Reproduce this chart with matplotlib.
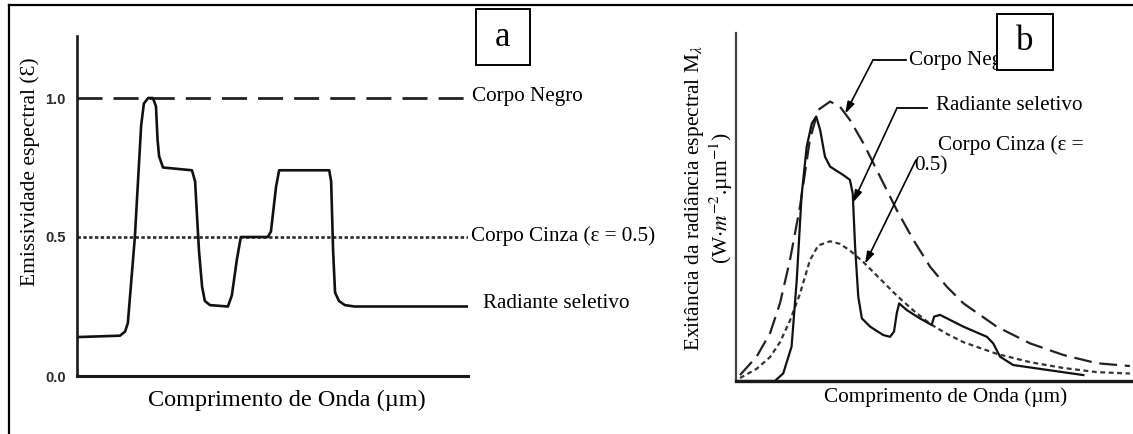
import numpy as np
import matplotlib
matplotlib.use("Agg")
import matplotlib.pyplot as plt
from matplotlib.lines import Line2D
from matplotlib.patches import Rectangle

plt.rcParams['font.family'] = ['Liberation Serif', 'DejaVu Serif']
plt.rcParams['mathtext.fontset'] = 'stix'

W, H = 1133, 434

# ---- panel (a): spectral emissivity vs wavelength ----
a_wave = [0, 11.0, 12.3, 13.0, 14.8, 16.4, 17.1, 18.2, 19.4, 20.2, 20.6, 21.0,
          22.0, 29.4, 30.2, 31.2, 32.0, 32.7, 34.0, 38.6, 39.6, 40.9, 41.9,
          48.8, 49.6, 50.9, 51.7, 64.5, 65.0, 65.5, 66.0, 67.0, 68.5, 71.0, 100]
a_selective = [0.14, 0.145, 0.16, 0.19, 0.50, 0.90, 0.98, 1.00, 1.00, 0.97, 0.85,
               0.79, 0.75, 0.74, 0.70, 0.45, 0.32, 0.27, 0.255, 0.25, 0.29, 0.42,
               0.50, 0.50, 0.52, 0.68, 0.74, 0.74, 0.70, 0.45, 0.30, 0.27, 0.255,
               0.25, 0.25]
a_blackbody = 1.0
a_graybody = 0.5
a_ticks = [0.0, 0.5, 1.0]
a_ticklabels = ["0.0", "0.5", "1.0"]

# ---- panel (b): spectral exitance vs wavelength ----
b_wave_bb = [1.0, 5.2, 8.6, 11.1, 13.6, 16.1, 18.6, 20.7, 23.7, 26.2, 28.7, 32.1,
             36.3, 40.5, 44.7, 48.9, 53.1, 57.3, 65.7, 74.1, 82.4, 90.9, 99.2]
b_blackbody = [1.7, 7.0, 13.8, 22.4, 34.8, 50.0, 69.3, 77.9, 80.3, 78.8, 75.0, 68.3,
               58.7, 49.1, 40.5, 32.8, 27.1, 22.3, 15.6, 10.8, 7.5, 5.1, 4.3]
b_emissivity_gray = 0.5
b_wave_sel = [0, 9.8, 11.9, 14.0, 15.3, 16.5, 17.8, 19.1, 20.2, 21.2, 22.4, 23.7,
              27.0, 28.7, 29.4, 30.0, 30.8, 31.7, 33.8, 37.1, 38.8, 39.8, 40.5,
              41.1, 43.0, 46.3, 49.3, 49.9, 51.4, 57.3, 63.2, 64.8, 66.5, 69.8,
              78.3, 87.5]
b_selective = [0, 0, 2.2, 9.9, 29.0, 53.0, 67.3, 74.0, 76.0, 72.1, 64.5, 61.6,
               59.2, 57.8, 53.9, 38.6, 24.2, 18.0, 15.6, 13.2, 12.7, 14.2, 19.5,
               22.3, 20.4, 18.0, 16.1, 18.5, 19.0, 15.6, 12.7, 10.8, 7.0, 4.6,
               3.2, 1.7]


def fig_xy(x, y):
    """Pixel position (origin top-left) to figure fraction."""
    return x / W, 1 - y / H


fig = plt.figure(figsize=(W / 100, H / 100), dpi=100)

# page frame (top and left rules)
fig.add_artist(Line2D([9 / W, 1], [1 - 5 / H] * 2, transform=fig.transFigure,
                      color='black', lw=1.6))
fig.add_artist(Line2D([9 / W] * 2, [1 - 5 / H, 0], transform=fig.transFigure,
                      color='black', lw=1.6))

TXT = 15.2

# ================= panel (a) =================
ax_a = fig.add_axes([77 / W, 1 - 376 / H, 391 / W, 340 / H])
ax_a.set_xlim(0, 100)
ax_a.set_ylim(0, 340 / 278)
for s in ('top', 'right'):
    ax_a.spines[s].set_visible(False)
ax_a.spines['left'].set_linewidth(1.9)
ax_a.spines['bottom'].set_linewidth(2.2)
ax_a.spines['left'].set_color('#1a1a1a')
ax_a.spines['bottom'].set_color('#1a1a1a')
ax_a.set_xticks([])
ax_a.set_yticks(a_ticks)
ax_a.set_yticklabels(a_ticklabels, family='Liberation Sans', fontweight='bold',
                     fontsize=10.5, color='#2a2a2a')
ax_a.tick_params(axis='y', length=0, pad=8)

ax_a.axhline(a_blackbody, color='#222222', lw=2.0, ls=(0, (9, 4)))
ax_a.axhline(a_graybody, color='#2a2a2a', lw=1.9, ls=(0, (1.3, 0.9)))
ax_a.plot(a_wave, a_selective, color='#111111', lw=1.9, solid_joinstyle='round')

ax_a.set_xlabel("Comprimento de Onda (µm)", fontsize=17.5)
ax_a.xaxis.set_label_coords((287 - 77) / 391, (376 - 400) / 340)
ax_a.xaxis.label.set_va('center')
ax_a.set_ylabel("Emissividade espectral (Ɛ)", fontsize=15.5)
ax_a.yaxis.set_label_coords((30 - 77) / 391, (376 - 172) / 340)
ax_a.yaxis.label.set_va('center')

fig.text(*fig_xy(472, 97), "Corpo Negro", fontsize=TXT, va='center', ha='left')
fig.text(*fig_xy(471, 236), "Corpo Cinza (ε = 0.5)", fontsize=TXT, va='center', ha='left')
fig.text(*fig_xy(483, 303), "Radiante seletivo", fontsize=TXT, va='center', ha='left')

fig.add_artist(Rectangle(fig_xy(476, 65), 54 / W, 56 / H, transform=fig.transFigure,
                         facecolor='white', edgecolor='black', lw=1.4, zorder=5))
fig.text(*fig_xy(503, 37), "a", fontsize=25, va='center', ha='center', zorder=6)

# ================= panel (b) =================
ax_b = fig.add_axes([736 / W, 1 - 381 / H, 397 / W, 348 / H])
ax_b.set_xlim(0, 100)
ax_b.set_ylim(0, 100)
for s in ('top', 'right'):
    ax_b.spines[s].set_visible(False)
ax_b.spines['left'].set_color('#444444')
ax_b.spines['left'].set_linewidth(1.6)
ax_b.spines['bottom'].set_color('#1a1a1a')
ax_b.spines['bottom'].set_linewidth(2.4)
ax_b.set_xticks([])
ax_b.set_yticks([])

bb = np.array(b_blackbody)
ax_b.plot(b_wave_bb, bb, color='#222222', lw=1.6, ls=(0, (8, 3.5)))
ax_b.plot(b_wave_bb, b_emissivity_gray * bb, color='#333333', lw=1.6, ls=(0, (2.2, 1.6)))
ax_b.plot(b_wave_sel, b_selective, color='#111111', lw=1.6, solid_joinstyle='round')

ax_b.set_xlabel("Comprimento de Onda (µm)", fontsize=15.3)
ax_b.xaxis.set_label_coords((946 - 736) / 397, (381 - 397) / 348)
ax_b.xaxis.label.set_va('center')
fig.text(*fig_xy(694, 198), r"Exitância da radiância espectral M$_{\lambda}$",
         rotation=90, fontsize=15.5, va='center', ha='center')
fig.text(*fig_xy(721, 198), r"(W$\cdot m^{-2}$.µm$^{-1}$)",
         rotation=90, fontsize=15.5, va='center', ha='center')

arrow_kw = dict(arrowstyle='-|>,head_length=0.7,head_width=0.22', color='black',
                lw=1.2, shrinkA=0, shrinkB=0)

# Corpo Negro leader
tip_x = 27.5
ax_b.annotate('', xy=(tip_x, np.interp(tip_x, b_wave_bb, bb)), xycoords='data',
              xytext=fig_xy(873, 60), textcoords='figure fraction', arrowprops=arrow_kw)
fig.add_artist(Line2D([873 / W, 906 / W], [1 - 60 / H] * 2, transform=fig.transFigure,
                      color='black', lw=1.3))
fig.text(*fig_xy(909, 60), "Corpo Negro", fontsize=TXT, va='center', ha='left')

# Radiante seletivo leader
tip_x = 29.5
ax_b.annotate('', xy=(tip_x, np.interp(tip_x, b_wave_sel, b_selective)), xycoords='data',
              xytext=fig_xy(897, 108), textcoords='figure fraction', arrowprops=arrow_kw)
fig.add_artist(Line2D([897 / W, 927 / W], [1 - 108 / H] * 2, transform=fig.transFigure,
                      color='black', lw=1.3))
fig.text(*fig_xy(936, 105), "Radiante seletivo", fontsize=TXT, va='center', ha='left')

# Corpo Cinza leader
tip_x = 32.5
ax_b.annotate('', xy=(tip_x, b_emissivity_gray * np.interp(tip_x, b_wave_bb, bb)),
              xycoords='data', xytext=fig_xy(916, 160), textcoords='figure fraction',
              arrowprops=arrow_kw)
fig.text(*fig_xy(938, 145), "Corpo Cinza (ε =", fontsize=TXT, va='center', ha='left')
fig.text(*fig_xy(914, 166), "0.5)", fontsize=TXT, va='center', ha='left')

fig.add_artist(Rectangle(fig_xy(997, 70), 56 / W, 56 / H, transform=fig.transFigure,
                         facecolor='white', edgecolor='black', lw=1.4, zorder=5))
fig.text(*fig_xy(1025, 41), "b", fontsize=25, va='center', ha='center', zorder=6)

fig.savefig("out.png", dpi=100)
